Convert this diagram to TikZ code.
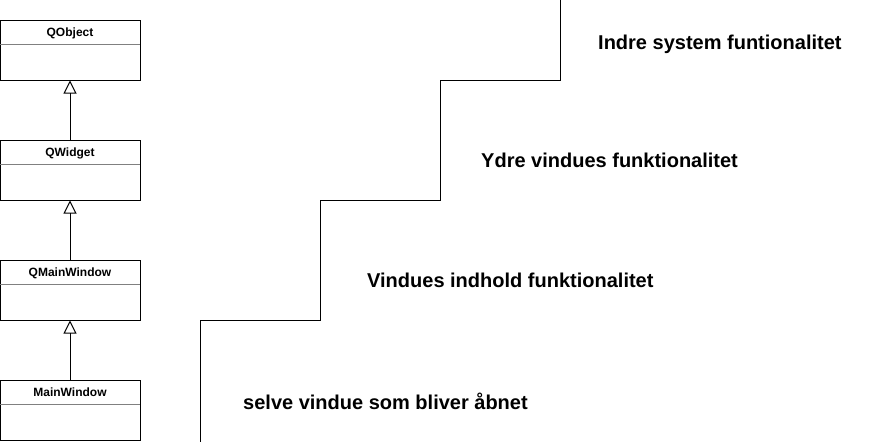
\documentclass[tikz,border=0pt]{standalone}
\usepackage{fontspec}
\setmainfont{Liberation Sans}
\usepackage{tikz}
\usetikzlibrary{arrows.meta, positioning}

\begin{document}
\begin{tikzpicture}[x=1pt, y=-1pt,
            node distance=59pt,
            classbox/.style={draw=black, rectangle, line width=1pt, minimum width=140pt, minimum height=60pt, inner sep=0pt},
            classname/.style={rectangle, minimum width=140pt, minimum height=25pt, inner sep=0pt, text height=9pt, text depth=0pt, font=\bfseries\fontsize{12}{14}\selectfont},
            layer/.style={anchor=base west, inner sep=0pt, font=\bfseries\fontsize{20}{24}\selectfont},
            inherit/.style={line width=1pt, -{Triangle[open, length=13pt, width=13pt]}}]
            \useasboundingbox (0,0) rectangle (871,442);

            % Class boxes
            \node (qobject) [classbox] at (70,50) {};
            \node (qwidget) [classbox, below=of qobject] {};
            \node (qmainwindow) [classbox, below=of qwidget] {};
            \node (mainwindow) [classbox, below=of qmainwindow] {};

            % Class names
            \foreach \cls/\txt in {qobject/QObject, qwidget/QWidget, qmainwindow/QMainWindow, mainwindow/MainWindow} {
                \node (\cls-name) [classname, below=0pt of \cls.north] {\txt};
                \draw [gray, line width=1pt] (\cls-name.south west) -- (\cls-name.south east);
            }

            % Inheritance
            \draw [inherit] (qwidget) -- (qobject);
            \draw [inherit] (qmainwindow) -- (qwidget);
            \draw [inherit] (mainwindow) -- (qmainwindow);

            % Stairs
            \draw [line width=1pt] (200.5,442) -- (200.5,320) -- (320.5,320) -- (320.5,200) -- (440.5,200) -- (440.5,80) -- (560.5,80) -- (560.5,0);

            % Layer texts
            \node (inner) [layer] at (598,49) {Indre system funtionalitet};
            \node (outer) [layer] at (481,167) {Ydre vindues funktionalitet};
            \node (content) [layer] at (367,287) {Vindues indhold funktionalitet};
            \node (window) [layer] at (243,409) {selve vindue som bliver åbnet};
        \end{tikzpicture}
\end{document}
